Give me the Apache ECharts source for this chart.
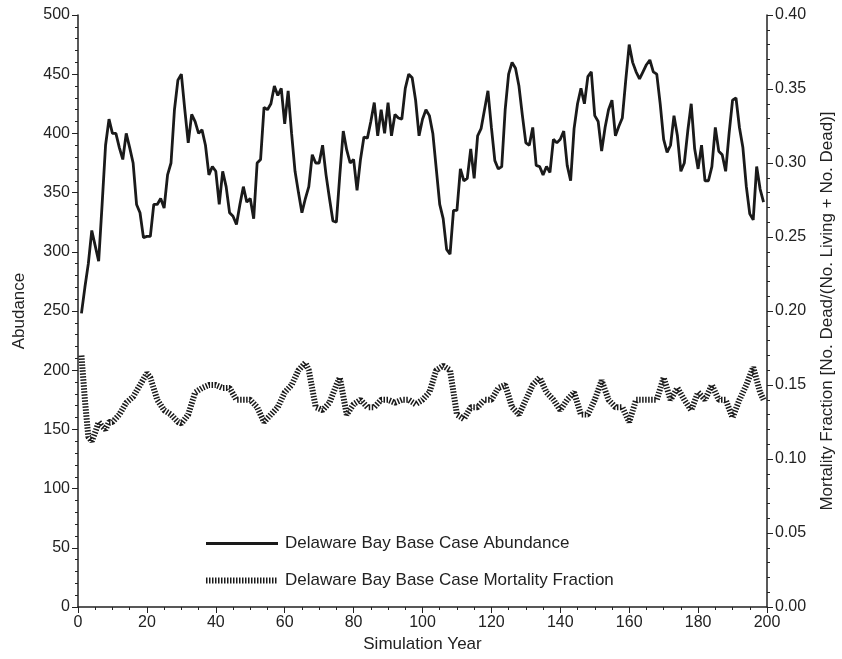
<!DOCTYPE html>
<html>
<head>
<meta charset="utf-8">
<script src="https://cdn.jsdelivr.net/npm/echarts@6/dist/echarts.min.js"></script>
<style>html,body{margin:0;padding:0;background:#fff}#main{width:842px;height:659px}</style>
</head>
<body>
<div id="main"></div>
<script>
// abundance, years 1..200
var abundance = [248,270,290,318,305,292,340,390,412,400,400,388,378,400,388,375,340,333,312,313,313,340,340,345,337,365,375,420,445,450,420,392,416,410,400,403,390,365,372,368,340,368,355,333,330,323,340,355,342,345,328,375,378,422,420,425,440,432,438,408,436,400,368,350,333,345,355,382,375,375,390,365,345,326,325,365,402,386,375,378,352,378,397,396,410,426,398,420,400,426,398,416,413,412,438,450,447,428,398,412,420,415,400,370,340,328,302,298,335,335,370,360,362,387,362,398,404,420,436,405,377,370,372,420,450,460,455,440,415,392,390,405,373,372,365,372,367,395,392,395,402,373,360,404,425,438,425,448,452,415,410,385,405,420,428,398,406,413,445,475,460,452,446,452,458,462,452,450,425,395,384,390,415,398,368,375,402,425,387,370,390,360,360,372,405,385,382,368,400,428,430,405,388,355,332,327,372,353,342];
// mortality fraction, sampled years
var mortYears = [1,2,3,4,5,6,7,8,9,10,12,14,16,18,20,21,23,25,27,29,30,32,34,36,38,40,42,44,46,48,50,52,54,56,58,60,62,64,66,67,69,71,73,75,76,78,80,82,84,86,88,90,92,94,96,98,100,102,104,106,108,110,112,114,116,118,120,122,124,126,128,130,132,134,136,138,140,142,144,146,148,150,152,154,156,158,160,162,164,166,168,170,172,174,176,178,180,182,184,186,188,190,192,194,196,198,199];
var mortality = [0.170,0.14,0.115,0.112,0.118,0.125,0.122,0.120,0.125,0.125,0.13,0.138,0.142,0.15,0.158,0.155,0.14,0.133,0.13,0.125,0.124,0.13,0.145,0.148,0.15,0.15,0.148,0.148,0.14,0.14,0.14,0.135,0.125,0.13,0.135,0.145,0.15,0.16,0.165,0.16,0.135,0.133,0.138,0.15,0.155,0.13,0.137,0.14,0.135,0.135,0.14,0.14,0.138,0.14,0.14,0.137,0.14,0.145,0.16,0.163,0.16,0.13,0.127,0.135,0.135,0.14,0.14,0.148,0.15,0.135,0.13,0.14,0.15,0.155,0.145,0.14,0.133,0.14,0.145,0.13,0.13,0.14,0.153,0.14,0.135,0.135,0.125,0.14,0.14,0.14,0.14,0.155,0.14,0.148,0.14,0.133,0.145,0.14,0.15,0.14,0.14,0.128,0.14,0.15,0.162,0.145,0.14];

var abData = abundance.map(function(v,i){return [i+1,v];});
var mData = mortYears.map(function(y,i){return [y,mortality[i]];});

var txt = {color:'#222',fontSize:16,fontFamily:'Liberation Sans'};
var axLine = {show:true,lineStyle:{color:'#222',width:1.5}};
var nameStyle = {color:'#222',fontSize:17,fontFamily:'Liberation Sans'};
var absName = 'Delaware Bay Base Case Abundance';
var morName = 'Delaware Bay Base Case Mortality Fraction';

var chart = echarts.init(document.getElementById('main'));
chart.setOption({
  backgroundColor:'#fff',
  animation:false,
  grid:{left:78,right:75,top:15,bottom:52,outerBoundsMode:'none',containLabel:false},
  legend:{
    orient:'vertical',left:198,top:530,itemGap:20,itemWidth:72,itemHeight:16,
    itemStyle:{opacity:0},
    textStyle:{color:'#222',fontSize:17,fontFamily:'Liberation Sans',padding:[0,0,0,2]},
    data:[{name:absName,lineStyle:{width:2.8,color:'#1a1a1a'}},
          {name:morName,lineStyle:{width:6,color:'#1a1a1a',type:[1.5,1.5]}}]
  },
  xAxis:{
    type:'value',min:0,max:200,interval:20,
    name:'Simulation Year',nameLocation:'middle',nameGap:27,nameTextStyle:nameStyle,
    axisLine:axLine,axisTick:{show:true,length:6,lineStyle:{color:'#222'}},
    minorTick:{show:true,splitNumber:4,length:3,lineStyle:{color:'#222'}},
    axisLabel:txt,splitLine:{show:false}
  },
  yAxis:[{
    type:'value',min:0,max:500,interval:50,
    name:'Abudance',nameLocation:'middle',nameGap:50,nameTextStyle:nameStyle,
    axisLine:axLine,axisTick:{show:true,length:6,lineStyle:{color:'#222'}},
    minorTick:{show:true,splitNumber:5,length:3,lineStyle:{color:'#222'}},
    axisLabel:txt,splitLine:{show:false}
  },{
    type:'value',min:0,max:0.4,interval:0.05,position:'right',
    name:'Mortality Fraction [No. Dead/(No. Living + No. Dead)]',nameLocation:'middle',nameGap:52,nameRotate:90,
    nameTextStyle:nameStyle,
    axisLine:axLine,axisTick:{show:true,length:6,lineStyle:{color:'#222'}},
    minorTick:{show:true,splitNumber:5,length:3,lineStyle:{color:'#222'}},
    axisLabel:Object.assign({formatter:function(v){return v.toFixed(2);}},txt),splitLine:{show:false}
  }],
  series:[{
    name:absName,type:'line',yAxisIndex:0,data:abData,
    symbol:'none',lineStyle:{color:'#1a1a1a',width:2.8},itemStyle:{color:'#1a1a1a'}
  },{
    name:morName,type:'line',yAxisIndex:1,data:mData,
    symbol:'none',lineStyle:{color:'#1a1a1a',width:6,type:[1.5,1.5]},itemStyle:{color:'#1a1a1a'}
  }]
});
</script>
</body>
</html>
